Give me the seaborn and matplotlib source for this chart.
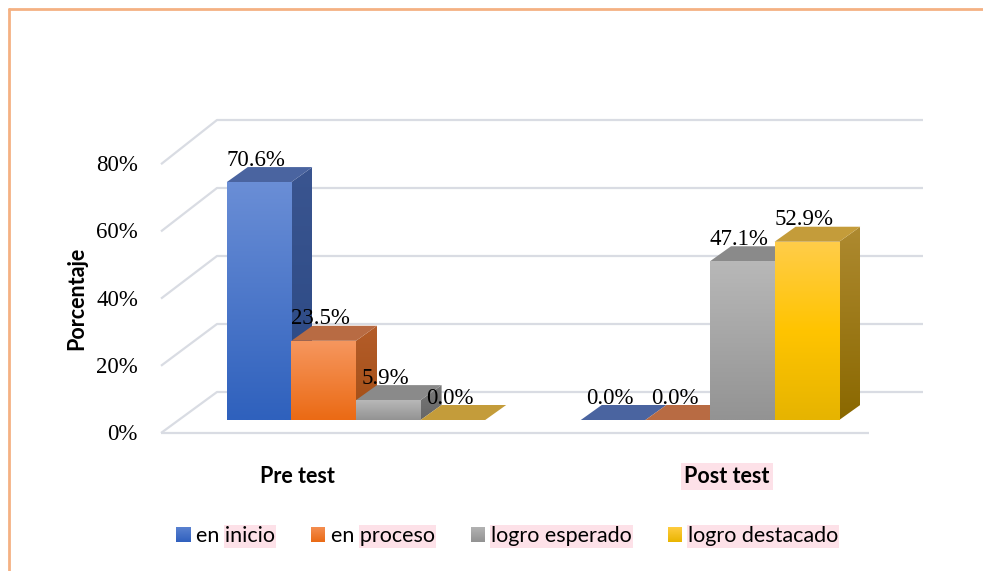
import numpy as np
import pandas as pd
import matplotlib
matplotlib.use("Agg")
import matplotlib.pyplot as plt
import matplotlib.colors as mcolors
from matplotlib.transforms import Affine2D
from matplotlib.patches import Polygon, Patch, Rectangle
from matplotlib.lines import Line2D
import seaborn as sns

# ---------------- data ----------------
categories = ["Pre test", "Post test"]
series = ["en inicio", "en proceso", "logro esperado", "logro destacado"]
pre_values = [70.6, 23.5, 5.9, 0.0]
post_values = [0.0, 0.0, 47.1, 52.9]
y_ticks = [0, 20, 40, 60, 80]
y_tick_labels = ["0%", "20%", "40%", "60%", "80%"]
y_label = "Porcentaje"

# ---------------- style ----------------
base_colors = ["#4472C4", "#ED7D31", "#A5A5A5", "#FFC000"]
front_grad = [("#6A8ED6", None, "#2F61BD"),
              ("#F6975F", None, "#EB6A14"),
              ("#B8B8B8", None, "#939393"),
              ("#FFCD4A", "#FFC400", "#E6B400")]
side_grad = [("#3A5590", "#2A4883"),
             ("#B45D2A", "#A34E15"),
             ("#7A7A7A", "#666666"),
             ("#AE8A30", "#8A6800")]
top_colors = ["#4A64A0", "#B86B43", "#8A8A8A", "#C49C3A"]
legend_grad = [("#5A82D0", "#3060BE"), ("#F48E50", "#EA6A15"),
               ("#B3B3B3", "#929292"), ("#FFCC40", "#E9B500")]

sns.set_theme(style="white")
plt.rcParams["font.family"] = ["Lato", "DejaVu Sans"]
SERIF = ["Liberation Serif", "DejaVu Serif"]

W, H = 983, 571
fig = plt.figure(figsize=(W / 100, H / 100), dpi=100)
ax = fig.add_axes([0, 0, 1, 1])

PIX = Affine2D().scale(1, -1).translate(0, H)   # pixels measured from top-left
DISP = Affine2D()                                # raw display pixels

X0PX, UNIT = 356.0, 354.0
BASE, S = 420.0, 3.37
DX, DY = 21.0 / UNIT, 15.0 / S

df = pd.DataFrame({
    "test": np.repeat(categories, len(series)),
    "nivel": series * len(categories),
    "pct": pre_values + post_values,
})
sns.barplot(data=df, x="test", y="pct", hue="nivel", order=categories,
            hue_order=series, palette=base_colors, width=0.73, dodge=True,
            saturation=1, errorbar=None, legend=False, ax=ax)


def grad_img(c_top, c_mid, c_bot, n=128):
    t = np.linspace(0, 1, n)
    a = np.array(mcolors.to_rgb(c_top))
    b = np.array(mcolors.to_rgb(c_bot))
    if c_mid is None:
        cols = a[None, :] * (1 - t[:, None]) + b[None, :] * t[:, None]
    else:
        m = np.array(mcolors.to_rgb(c_mid))
        cols = np.where(t[:, None] < 0.5,
                        a * (1 - 2 * t[:, None]) + m * (2 * t[:, None]),
                        m * (2 - 2 * t[:, None]) + b * (2 * t[:, None] - 1))
    return cols[:, None, :]


def fill_grad(patch, extent, c_top, c_mid, c_bot, z):
    im = ax.imshow(grad_img(c_top, c_mid, c_bot), extent=extent,
                   aspect="auto", interpolation="bilinear", origin="upper",
                   zorder=z)
    im.set_clip_path(patch)


bars = sorted(ax.patches, key=lambda p: p.get_x())
n_s = len(series)
for k, p in enumerate(bars):
    si = k % n_s
    x0, w, h = p.get_x(), p.get_width(), p.get_height()
    x1 = x0 + w
    z = 10 + 3 * k
    p.set_linewidth(0)
    top = Polygon([(x0, h), (x1, h), (x1 + DX, h + DY), (x0 + DX, h + DY)],
                  closed=True, facecolor=top_colors[si], edgecolor="none",
                  zorder=z + 1)
    ax.add_patch(top)
    if h > 0:
        side = Polygon([(x1, 0), (x1 + DX, DY), (x1 + DX, h + DY), (x1, h)],
                       closed=True, facecolor="none", edgecolor="none", zorder=z)
        ax.add_patch(side)
        fill_grad(side, (x1, x1 + DX, 0, h + DY), side_grad[si][0], None,
                  side_grad[si][1], z)
        p.set_zorder(z + 2)
        fill_grad(p, (x0, x1, 0, h), *front_grad[si], z + 2.5)
    else:
        p.set_visible(False)
    ax.text(x0 + w / 2 - 3 / UNIT, h + DY + 0.4, f"{h:.1f}%",
            ha="center", va="baseline", fontsize=16.5, family=SERIF,
            color="#000000", zorder=50)

# ---------------- walls / gridlines ----------------
GRID = "#D9DCE3"
for v, lab in zip(y_ticks, y_tick_labels):
    fy = 433 - v * 3.36
    by = 392 - v * 3.4
    ax.plot([161, 217, 923], [fy, by, by], transform=PIX, color=GRID,
            lw=1.6, zorder=1, solid_capstyle="butt")
    if v == 0:
        ax.plot([161, 869], [fy, fy], transform=PIX, color=GRID, lw=1.6,
                zorder=1, solid_capstyle="butt")
    ax.text(138, fy + 7, lab, transform=PIX, ha="right", va="baseline",
            fontsize=16.5, family=SERIF, color="#000000")

ax.text(77, 298, y_label, transform=PIX, rotation=90, ha="center",
        va="center", fontsize=15.5, fontweight="bold", color="#000000")

cat_x = [297, 727]
PINK = "#FDE1E8"
for i, c in enumerate(categories):
    t = ax.text(cat_x[i], 483, c, transform=PIX, ha="center", va="baseline",
                fontsize=15.5, fontweight="bold", color="#000000")
    if i == 1:
        t.set_bbox(dict(facecolor=PINK, edgecolor="none", pad=2.5))

# ---------------- legend ----------------
FS = 15.5
px_per_em = FS * 100 / 72
handles = [Patch(facecolor=c, edgecolor="none") for c in base_colors]
leg = ax.legend(handles, series, loc="center", ncol=4, frameon=False,
                bbox_to_anchor=(507, H - 536), bbox_transform=DISP,
                fontsize=FS, handlelength=14 / px_per_em,
                handleheight=14 / px_per_em, handletextpad=6 / px_per_em,
                columnspacing=36 / px_per_em, borderpad=0, borderaxespad=0)
leg.set_zorder(60)
for t in leg.get_texts():
    t.set_color("#000000")

ax.set_xlim(-X0PX / UNIT, (W - X0PX) / UNIT)
ax.set_ylim(-(H - BASE) / S, BASE / S)
ax.axis("off")

# pink highlight behind the (partly) marked legend words + gradient swatches
fig.canvas.draw()
rend = fig.canvas.get_renderer()
marked = {"en inicio": "inicio", "en proceso": "proceso",
          "logro esperado": "logro esperado", "logro destacado": "logro destacado"}
for t in leg.get_texts():
    full = t.get_window_extent(rend)
    sub = marked[t.get_text()]
    tmp = fig.text(0, 0, sub, fontsize=FS, family=t.get_fontfamily())
    sw = tmp.get_window_extent(rend).width
    tmp.remove()
    x_right = full.x1 + 1
    x_left = x_right - sw - 2
    ax.add_patch(Rectangle((x_left, H - 548), x_right - x_left, 23,
                           transform=DISP, facecolor=PINK, edgecolor="none",
                           zorder=55))

inv = ax.transData.inverted()
for hp, (ct, cb) in zip(leg.legend_handles, legend_grad):
    bb = hp.get_window_extent(rend)
    (dx0, dy0), (dx1, dy1) = inv.transform([(bb.x0, bb.y0), (bb.x1, bb.y1)])
    ax.imshow(grad_img(ct, None, cb), extent=(dx0, dx1, dy0, dy1),
              aspect="auto", origin="upper", interpolation="bilinear", zorder=70)

ax.set_xlim(-X0PX / UNIT, (W - X0PX) / UNIT)
ax.set_ylim(-(H - BASE) / S, BASE / S)

# ---------------- outer frame ----------------
FRAME = "#F4B183"
fig.add_artist(Line2D([8.5, W], [H - 8.5, H - 8.5], transform=DISP,
                      color=FRAME, lw=2.0))
fig.add_artist(Line2D([8.5, 8.5], [0, H - 8.5], transform=DISP,
                      color=FRAME, lw=2.0))

fig.savefig("out.png", dpi=100)
